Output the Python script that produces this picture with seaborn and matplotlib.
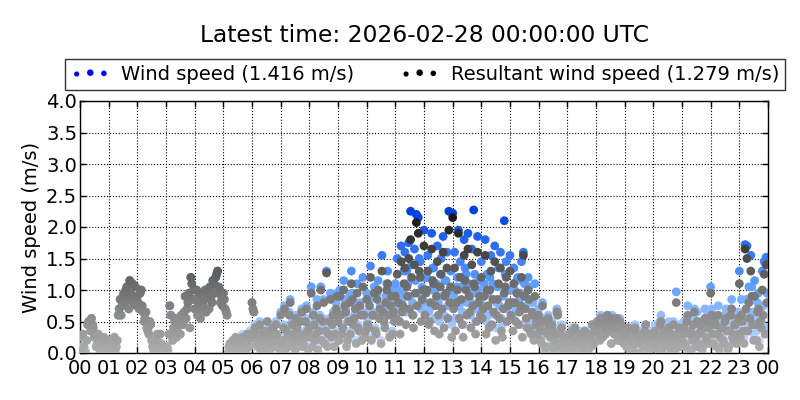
import numpy as np
import pandas as pd
import matplotlib
matplotlib.use("Agg")
import matplotlib.pyplot as plt
from matplotlib.colors import LinearSegmentedColormap
import seaborn as sns

# Resultant wind speed (m/s), samples at minutes 0,4,...,56 of each hour
resultant = [
    [0.25, 0.05, 0.1, 0.0, 0.45, 0.5, 0.55, 0.4, 0.3, 0.15, 0.2, 0.05, 0.2, 0.1, 0.0],
    [0.2, 0.05, 0.0, 0.25, 0.1, 0.6, 0.85, 0.75, 0.95, 1.0, 0.85, 1.15, 1.1, 0.8, 1.05],
    [0.9, 0.7, 1.0, 0.65, 0.55, 0.4, 0.3, 0.45, 0.1, 0.0, 0.2, 0.05, 0.3, 0.0, 0.1],
    [0.0, 0.05, 0.75, 0.3, 0.4, 0.55, 0.35, 0.5, 0.6, 0.45, 0.9, 0.7, 0.95, 1.2, 0.85],
    [0.7, 1.0, 0.8, 0.55, 0.9, 0.85, 0.65, 0.95, 1.05, 0.8, 1.1, 1.2, 1.3, 1.0, 0.9],
    [0.95, 0.7, 0.6, 0.1, 0.0, 0.2, 0.05, 0.15, 0.1, 0.0, 0.25, 0.1, 0.05, 0.2, 0.3],
    [0.8, 0.65, 0.3, 0.1, 0.45, 0.2, 0.35, 0.05, 0.5, 0.25, 0.15, 0.4, 0.1, 0.3, 0.2],
    [0.6, 0.2, 0.7, 0.35, 0.1, 0.8, 0.45, 0.25, 0.55, 0.1, 0.3, 0.65, 0.15, 0.5, 0.35],
    [0.4, 0.95, 0.6, 0.2, 0.75, 0.35, 1.0, 0.5, 0.15, 1.27, 0.3, 0.85, 0.45, 0.1, 0.7],
    [0.5, 0.9, 0.3, 1.0, 0.65, 0.2, 0.8, 1.1, 0.45, 0.7, 0.95, 0.35, 0.6, 1.05, 0.25],
    [0.85, 0.4, 1.2, 0.6, 0.95, 0.3, 1.0, 0.7, 1.3, 0.5, 0.8, 1.1, 0.25, 0.9, 0.65],
    [0.9, 1.25, 0.5, 1.45, 0.75, 1.35, 1.05, 1.5, 1.8, 0.6, 1.4, 2.07, 1.9, 1.2, 0.85],
    [1.7, 0.95, 1.3, 0.5, 1.65, 1.1, 0.75, 1.45, 0.3, 1.25, 1.6, 0.9, 1.35, 1.95, 1.05],
    [2.15, 1.35, 0.8, 1.9, 1.2, 0.45, 1.55, 1.0, 1.65, 0.65, 1.4, 1.1, 0.3, 1.6, 0.9],
    [1.2, 0.7, 1.55, 1.0, 0.4, 1.3, 0.85, 1.45, 0.6, 1.1, 1.35, 0.25, 0.95, 1.2, 0.75],
    [1.3, 0.8, 1.1, 0.5, 0.95, 0.65, 1.2, 1.55, 0.7, 0.4, 0.85, 0.3, 0.6, 0.9, 0.5],
    [0.6, 0.2, 0.75, 0.35, 0.1, 0.55, 0.25, 0.45, 0.05, 0.3, 0.6, 0.15, 0.4, 0.2, 0.05],
    [0.1, 0.3, 0.05, 0.2, 0.4, 0.15, 0.0, 0.25, 0.1, 0.35, 0.2, 0.05, 0.3, 0.45, 0.15],
    [0.35, 0.5, 0.2, 0.45, 0.55, 0.3, 0.6, 0.4, 0.15, 0.5, 0.3, 0.55, 0.2, 0.45, 0.25],
    [0.3, 0.1, 0.4, 0.2, 0.05, 0.35, 0.15, 0.25, 0.0, 0.3, 0.1, 0.45, 0.2, 0.05, 0.25],
    [0.15, 0.35, 0.05, 0.25, 0.5, 0.1, 0.3, 0.2, 0.4, 0.0, 0.25, 0.15, 0.8, 0.3, 0.1],
    [0.2, 0.4, 0.1, 0.6, 0.3, 0.05, 0.45, 0.25, 0.5, 0.15, 0.35, 0.1, 0.55, 0.2, 0.4],
    [0.95, 0.3, 0.5, 0.1, 0.6, 0.25, 0.4, 0.15, 0.55, 0.05, 0.35, 0.7, 0.2, 0.45, 0.3],
    [1.1, 0.6, 0.35, 1.65, 1.5, 0.8, 1.3, 0.45, 0.9, 0.2, 0.7, 0.5, 1.0, 1.25, 1.4],
]
# Resultant wind speed (m/s), samples at minutes 2,6,...,58 of each hour
resultant_b = [
    [0.1, 0.3, 0.0, 0.2, 0.5, 0.35, 0.45, 0.25, 0.1, 0.3, 0.0, 0.15, 0.25, 0.05, 0.1],
    [0.1, 0.0, 0.15, 0.05, 0.2, 0.7, 0.6, 0.9, 0.8, 1.05, 0.7, 0.95, 1.1, 0.9, 0.75],
    [0.8, 0.95, 0.75, 0.5, 0.65, 0.35, 0.5, 0.2, 0.05, 0.1, 0.3, 0.0, 0.15, 0.05, 0.0],
    [0.1, 0.3, 0.6, 0.2, 0.5, 0.25, 0.45, 0.3, 0.5, 0.65, 0.55, 0.8, 0.4, 1.1, 1.0],
    [0.85, 0.6, 0.95, 0.7, 0.75, 1.0, 0.9, 0.7, 0.85, 1.15, 0.95, 1.25, 1.05, 0.8, 0.75],
    [0.85, 0.65, 0.0, 0.15, 0.05, 0.1, 0.25, 0.0, 0.2, 0.1, 0.15, 0.05, 0.3, 0.1, 0.25],
    [0.7, 0.4, 0.15, 0.25, 0.05, 0.3, 0.1, 0.2, 0.35, 0.05, 0.3, 0.2, 0.45, 0.1, 0.05],
    [0.15, 0.4, 0.05, 0.25, 0.6, 0.15, 0.3, 0.05, 0.4, 0.2, 0.5, 0.1, 0.25, 0.7, 0.05],
    [0.25, 0.1, 0.45, 0.3, 0.05, 0.55, 0.2, 0.8, 0.35, 0.1, 0.5, 0.25, 0.6, 0.3, 0.9],
    [0.2, 0.6, 0.4, 0.75, 0.1, 0.5, 0.3, 0.85, 0.55, 0.15, 0.4, 0.75, 0.2, 0.6, 0.35],
    [0.45, 0.75, 0.2, 0.6, 0.35, 0.85, 0.55, 0.15, 0.65, 0.4, 1.0, 0.6, 0.75, 0.3, 0.5],
    [0.55, 0.8, 0.3, 0.65, 1.1, 0.45, 0.9, 0.7, 1.2, 0.4, 0.95, 0.75, 1.3, 0.5, 1.0],
    [0.6, 1.0, 0.45, 0.8, 1.15, 0.35, 0.9, 0.6, 1.05, 0.7, 0.4, 0.95, 0.55, 0.8, 0.25],
    [0.7, 0.35, 1.0, 0.55, 0.85, 0.25, 1.15, 0.6, 0.9, 0.4, 0.75, 1.05, 0.5, 0.8, 0.6],
    [0.55, 0.9, 0.3, 0.75, 1.0, 0.45, 0.65, 0.2, 0.85, 0.55, 0.35, 0.7, 1.05, 0.5, 0.8],
    [0.6, 0.35, 0.8, 0.95, 0.45, 0.75, 0.25, 0.9, 0.55, 1.0, 0.35, 0.65, 0.2, 0.45, 0.3],
    [0.4, 0.15, 0.5, 0.05, 0.3, 0.45, 0.1, 0.35, 0.2, 0.65, 0.1, 0.3, 0.0, 0.25, 0.15],
    [0.2, 0.05, 0.35, 0.1, 0.25, 0.0, 0.3, 0.15, 0.2, 0.05, 0.3, 0.25, 0.1, 0.2, 0.35],
    [0.45, 0.3, 0.55, 0.25, 0.4, 0.5, 0.35, 0.45, 0.55, 0.3, 0.4, 0.2, 0.5, 0.35, 0.15],
    [0.2, 0.35, 0.05, 0.25, 0.15, 0.4, 0.0, 0.3, 0.2, 0.1, 0.35, 0.25, 0.05, 0.3, 0.15],
    [0.3, 0.1, 0.2, 0.45, 0.05, 0.35, 0.15, 0.25, 0.1, 0.3, 0.45, 0.05, 0.2, 0.4, 0.25],
    [0.3, 0.15, 0.5, 0.0, 0.35, 0.2, 0.65, 0.1, 0.3, 0.45, 0.05, 0.4, 0.25, 0.5, 0.15],
    [0.6, 0.15, 0.45, 0.3, 0.05, 0.4, 0.2, 0.5, 0.35, 0.1, 0.6, 0.25, 0.45, 0.15, 0.55],
    [0.25, 0.5, 0.15, 0.7, 0.35, 0.55, 0.9, 0.2, 0.45, 0.65, 0.1, 0.4, 0.6, 0.3, 0.8],
]

# Wind speed (m/s), minutes 0,4,...,56
wind = [
    [0.25, 0.1, 0.1, 0.05, 0.45, 0.5, 0.55, 0.45, 0.3, 0.15, 0.2, 0.05, 0.2, 0.1, 0.05],
    [0.2, 0.05, 0.05, 0.25, 0.1, 0.6, 0.85, 0.75, 0.95, 1.0, 0.85, 1.15, 1.1, 0.8, 1.05],
    [0.9, 0.7, 1.0, 0.65, 0.55, 0.4, 0.3, 0.45, 0.1, 0.05, 0.2, 0.05, 0.3, 0.05, 0.1],
    [0.05, 0.05, 0.75, 0.3, 0.4, 0.55, 0.35, 0.5, 0.6, 0.45, 0.9, 0.7, 0.95, 1.2, 0.85],
    [0.7, 1.0, 0.8, 0.55, 0.9, 0.85, 0.65, 0.95, 1.05, 0.8, 1.1, 1.2, 1.3, 1.0, 0.9],
    [0.95, 0.7, 0.6, 0.1, 0.05, 0.2, 0.1, 0.15, 0.1, 0.05, 0.3, 0.1, 0.1, 0.25, 0.35],
    [0.8, 0.65, 0.3, 0.1, 0.5, 0.2, 0.35, 0.05, 0.5, 0.3, 0.15, 0.4, 0.1, 0.3, 0.25],
    [0.65, 0.25, 0.75, 0.4, 0.15, 0.85, 0.5, 0.3, 0.6, 0.15, 0.35, 0.7, 0.2, 0.55, 0.4],
    [0.45, 1.05, 0.65, 0.25, 0.85, 0.4, 1.05, 0.55, 0.2, 1.3, 0.35, 0.95, 0.5, 0.15, 0.8],
    [0.6, 1.0, 0.35, 1.15, 0.7, 0.25, 0.9, 1.3, 0.5, 0.8, 1.1, 0.4, 0.65, 1.2, 0.3],
    [0.95, 0.45, 1.38, 0.65, 1.05, 0.35, 1.15, 0.75, 1.55, 0.55, 0.9, 1.3, 0.3, 1.0, 0.7],
    [1.1, 1.5, 0.7, 1.7, 0.95, 1.6, 1.3, 1.75, 2.25, 0.8, 1.65, 2.2, 2.15, 1.45, 1.05],
    [1.95, 1.2, 1.55, 0.7, 1.9, 1.35, 1.0, 1.7, 0.5, 1.5, 1.85, 1.15, 1.6, 2.25, 1.3],
    [2.22, 1.6, 1.05, 1.95, 1.45, 0.65, 1.8, 1.25, 1.9, 0.85, 1.65, 2.27, 0.5, 1.85, 1.15],
    [1.45, 0.9, 1.8, 1.25, 0.6, 1.55, 1.1, 1.7, 0.8, 1.35, 1.6, 0.45, 2.1, 1.45, 1.0],
    [1.55, 1.0, 1.35, 0.7, 1.2, 0.85, 1.45, 1.6, 0.9, 0.55, 1.05, 0.45, 0.8, 1.1, 0.65],
    [0.7, 0.25, 0.8, 0.4, 0.1, 0.6, 0.3, 0.5, 0.05, 0.35, 0.65, 0.15, 0.45, 0.25, 0.05],
    [0.1, 0.3, 0.05, 0.2, 0.4, 0.15, 0.05, 0.25, 0.1, 0.35, 0.2, 0.05, 0.3, 0.45, 0.15],
    [0.35, 0.5, 0.2, 0.45, 0.55, 0.3, 0.6, 0.4, 0.15, 0.5, 0.3, 0.55, 0.2, 0.45, 0.25],
    [0.3, 0.1, 0.4, 0.2, 0.05, 0.35, 0.15, 0.25, 0.05, 0.3, 0.1, 0.45, 0.2, 0.05, 0.25],
    [0.2, 0.45, 0.1, 0.35, 0.6, 0.15, 0.4, 0.25, 0.5, 0.05, 0.35, 0.2, 0.97, 0.4, 0.15],
    [0.3, 0.5, 0.15, 0.75, 0.4, 0.1, 0.55, 0.35, 0.65, 0.2, 0.45, 0.15, 0.7, 0.3, 0.5],
    [1.05, 0.4, 0.6, 0.15, 0.75, 0.35, 0.5, 0.2, 0.7, 0.1, 0.45, 0.85, 0.3, 0.55, 0.4],
    [1.3, 0.85, 0.55, 1.72, 1.7, 1.05, 1.55, 0.65, 1.15, 0.35, 0.95, 0.7, 1.3, 1.45, 1.52],
]
# Wind speed (m/s), minutes 2,6,...,58
wind_b = [
    [0.1, 0.3, 0.05, 0.2, 0.5, 0.35, 0.45, 0.25, 0.1, 0.3, 0.05, 0.15, 0.25, 0.05, 0.1],
    [0.1, 0.05, 0.15, 0.05, 0.2, 0.7, 0.6, 0.9, 0.8, 1.05, 0.7, 0.95, 1.1, 0.9, 0.75],
    [0.8, 0.95, 0.75, 0.5, 0.65, 0.35, 0.5, 0.2, 0.05, 0.1, 0.3, 0.05, 0.15, 0.05, 0.05],
    [0.1, 0.3, 0.6, 0.2, 0.5, 0.25, 0.45, 0.3, 0.5, 0.65, 0.55, 0.8, 0.4, 1.1, 1.0],
    [0.85, 0.6, 0.95, 0.7, 0.75, 1.0, 0.9, 0.7, 0.85, 1.15, 0.95, 1.25, 1.05, 0.8, 0.75],
    [0.85, 0.65, 0.05, 0.15, 0.05, 0.1, 0.25, 0.05, 0.2, 0.1, 0.15, 0.05, 0.3, 0.1, 0.25],
    [0.7, 0.45, 0.2, 0.3, 0.1, 0.35, 0.15, 0.25, 0.4, 0.1, 0.35, 0.25, 0.5, 0.15, 0.1],
    [0.2, 0.45, 0.1, 0.3, 0.65, 0.2, 0.35, 0.1, 0.45, 0.25, 0.55, 0.15, 0.3, 0.75, 0.1],
    [0.3, 0.15, 0.5, 0.35, 0.1, 0.6, 0.25, 0.85, 0.4, 0.15, 0.55, 0.3, 0.65, 0.35, 0.95],
    [0.25, 0.65, 0.45, 0.85, 0.15, 0.55, 0.35, 0.95, 0.6, 0.2, 0.45, 0.8, 0.25, 0.65, 0.4],
    [0.5, 0.85, 0.25, 0.65, 0.4, 0.95, 0.6, 0.2, 0.7, 0.45, 1.1, 0.65, 0.8, 0.35, 0.55],
    [0.75, 1.0, 0.5, 0.85, 1.3, 0.65, 1.1, 0.9, 1.4, 0.6, 1.15, 0.95, 1.5, 0.7, 1.2],
    [0.8, 1.2, 0.65, 1.0, 1.35, 0.55, 1.1, 0.8, 1.25, 0.9, 0.6, 1.15, 0.75, 1.0, 0.45],
    [0.9, 0.55, 1.2, 0.75, 1.05, 0.45, 1.35, 0.8, 1.1, 0.6, 0.95, 1.25, 0.7, 1.0, 0.8],
    [0.75, 1.1, 0.5, 0.95, 1.2, 0.65, 0.85, 0.4, 1.05, 0.75, 0.55, 0.9, 1.25, 0.7, 1.0],
    [0.8, 0.55, 1.0, 1.15, 0.65, 0.95, 0.45, 1.1, 0.75, 1.2, 0.55, 0.85, 0.4, 0.6, 0.45],
    [0.45, 0.2, 0.55, 0.1, 0.35, 0.5, 0.15, 0.4, 0.25, 0.7, 0.15, 0.35, 0.05, 0.3, 0.2],
    [0.25, 0.1, 0.4, 0.15, 0.3, 0.05, 0.35, 0.2, 0.25, 0.1, 0.35, 0.3, 0.15, 0.25, 0.4],
    [0.5, 0.35, 0.6, 0.3, 0.45, 0.55, 0.4, 0.5, 0.6, 0.35, 0.45, 0.25, 0.55, 0.4, 0.2],
    [0.25, 0.4, 0.1, 0.3, 0.2, 0.45, 0.05, 0.35, 0.25, 0.15, 0.4, 0.3, 0.1, 0.35, 0.2],
    [0.35, 0.15, 0.25, 0.5, 0.1, 0.4, 0.2, 0.3, 0.15, 0.35, 0.5, 0.1, 0.25, 0.45, 0.3],
    [0.35, 0.2, 0.55, 0.05, 0.4, 0.25, 0.7, 0.15, 0.35, 0.5, 0.1, 0.45, 0.3, 0.6, 0.2],
    [0.7, 0.25, 0.55, 0.4, 0.15, 0.5, 0.3, 0.6, 0.45, 0.2, 0.7, 0.35, 0.55, 0.25, 0.65],
    [0.35, 0.6, 0.25, 0.85, 0.45, 0.65, 1.05, 0.3, 0.55, 0.8, 0.2, 0.5, 0.75, 0.4, 0.95],
]

minutes_a = [0, 4, 8, 12, 16, 20, 24, 28, 32, 36, 40, 44, 48, 52, 56]
minutes_b = [2, 6, 10, 14, 18, 22, 26, 30, 34, 38, 42, 46, 50, 54, 58]
hour_labels = ["00", "01", "02", "03", "04", "05", "06", "07", "08", "09", "10", "11",
               "12", "13", "14", "15", "16", "17", "18", "19", "20", "21", "22", "23", "00"]
title_text = "Latest time: 2026-02-28 00:00:00 UTC"
wind_label = "Wind speed (1.416 m/s)"
res_label = "Resultant wind speed (1.279 m/s)"

rows = []
for h in range(24):
    for i, m in enumerate(minutes_a):
        rows.append({"t": h + m / 60.0, "wind": wind[h][i], "res": resultant[h][i]})
    for i, m in enumerate(minutes_b):
        rows.append({"t": h + m / 60.0, "wind": wind_b[h][i], "res": resultant_b[h][i]})
df = pd.DataFrame(rows)

sns.set_theme(style="white")
plt.rcParams.update({
    "font.family": ["DejaVu Sans"],
    "text.color": "black", "axes.labelcolor": "black",
    "xtick.direction": "in", "ytick.direction": "in",
    "xtick.top": True, "ytick.right": True,
    "xtick.bottom": True, "ytick.left": True,
    "axes.edgecolor": "black", "axes.linewidth": 1.0,
    "xtick.color": "black", "ytick.color": "black",
})

fig = plt.figure(figsize=(8, 4), dpi=100)
ax = fig.add_axes([0.1, 0.1175, 0.86, 0.63])

blue_cmap = LinearSegmentedColormap.from_list("b", ["#d2e3ff", "#5c9cff", "#0040e0"])
gray_cmap = LinearSegmentedColormap.from_list("g", ["#b0b0b0", "#6a6a6a", "#111111"])
norm = (0.0, 2.25)

sns.scatterplot(data=df.sort_values("wind"), x="t", y="wind", hue="wind",
                palette=blue_cmap, hue_norm=norm, s=40, linewidth=0,
                legend=False, ax=ax, zorder=2)
sns.scatterplot(data=df.sort_values("res"), x="t", y="res", hue="res",
                palette=gray_cmap, hue_norm=norm, s=40, linewidth=0,
                legend=False, ax=ax, zorder=3)

ax.set_xlim(0, 24)
ax.set_ylim(0, 4.0)
ax.set_xticks(range(25))
ax.set_xticklabels(hour_labels)
ax.set_yticks([0, 0.5, 1.0, 1.5, 2.0, 2.5, 3.0, 3.5, 4.0])
ax.set_yticklabels(["0.0", "0.5", "1.0", "1.5", "2.0", "2.5", "3.0", "3.5", "4.0"])
ax.tick_params(labelsize=14, length=4, width=1, pad=2)
ax.tick_params(axis="x", pad=4)
ax.grid(True, color="black", linestyle=":", linewidth=0.8)
ax.set_axisbelow(True)
ax.set_xlabel("")
ax.set_ylabel("Wind speed (m/s)", fontsize=14)

h1 = ax.scatter([], [], color="blue", s=28, linewidth=0, label=wind_label)
h2 = ax.scatter([], [], color="black", s=28, linewidth=0, label=res_label)
leg = ax.legend(handles=[h1, h2], loc="lower left", ncol=2, mode="expand",
                bbox_to_anchor=(-0.0218, 1.0437, 1.0465, 0.1388), borderaxespad=0,
                scatterpoints=3, scatteryoffsets=[0.45, 0.55, 0.5], fontsize=14,
                fancybox=False, frameon=True, handletextpad=0.6, borderpad=0.3)
leg.get_frame().set_edgecolor("black")
leg.get_frame().set_linewidth(1.0)
for hnd in leg.legend_handles:
    hnd.set_sizes([14, 22, 16])

fig.text(0.53, 0.9125, title_text, ha="center", va="center", fontsize=16.8)
fig.savefig("out.png", dpi=100)
